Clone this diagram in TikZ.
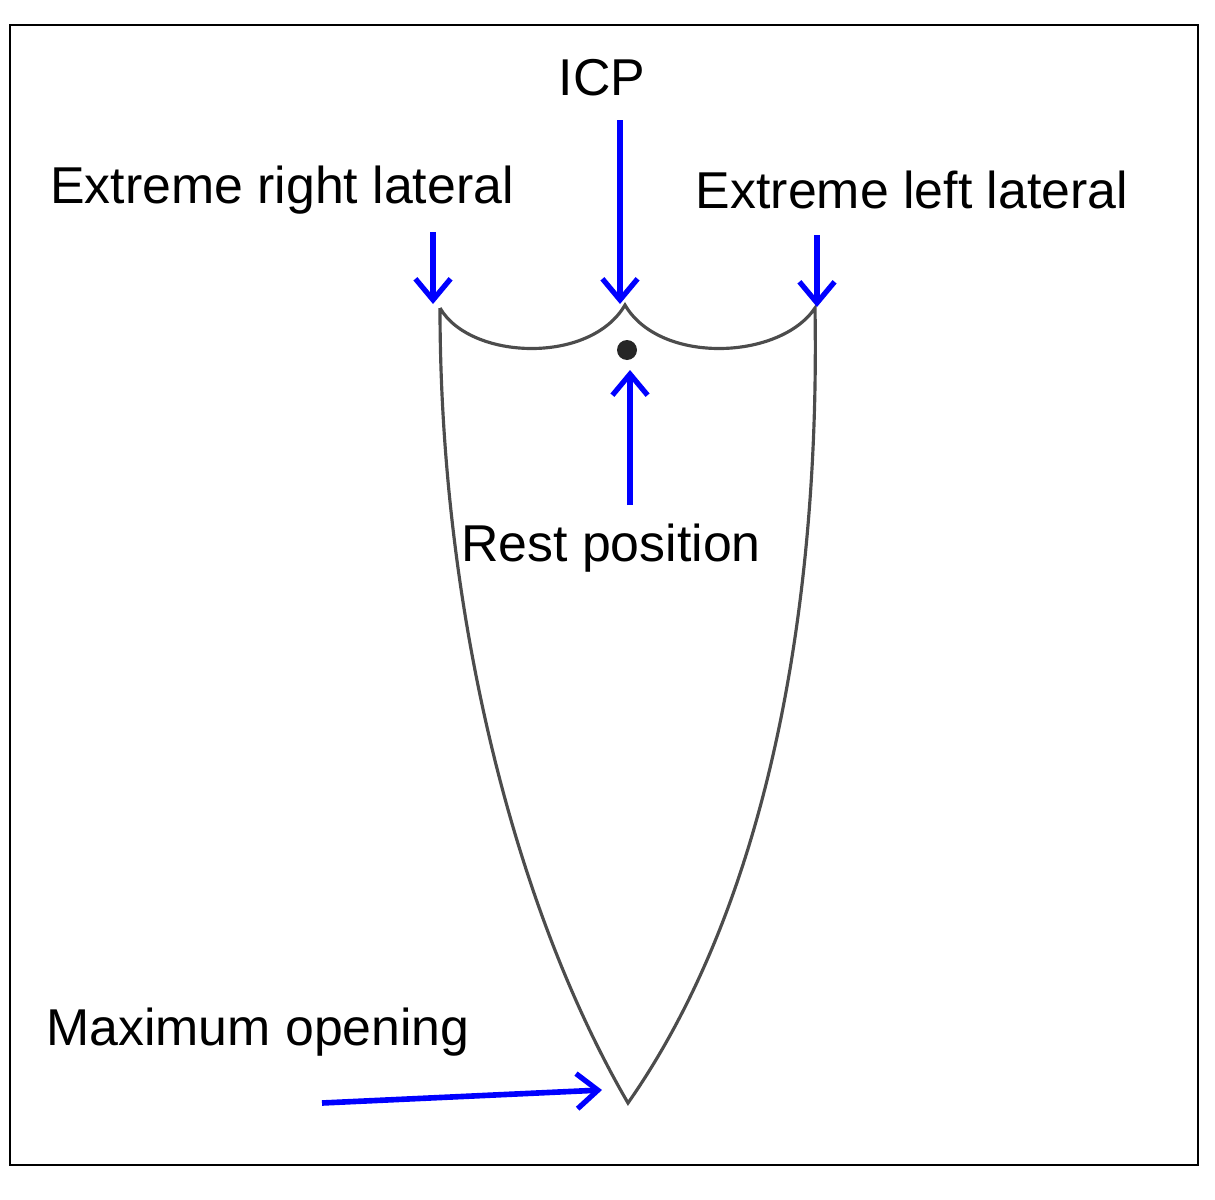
\documentclass[tikz,border=0pt]{standalone}
\usepackage{fontspec}
\setmainfont{Liberation Sans}
\usetikzlibrary{arrows.meta}
\begin{document}
\begin{tikzpicture}[x=0.02cm,y=-0.02cm,
  lbl/.style={font=\fontsize{29.5}{34}\selectfont},
  barrow/.style={draw=blue,line width=3.2pt,-{Straight Barb[length=12pt,width=20pt,line width=3pt]}},
  outline/.style={draw=black!70,line width=1.8pt}]
\useasboundingbox (0,0) rectangle (1215,1200);
\draw[line width=1.4pt] (10,25) rectangle (1198,1165);
% shape
\coordinate (L) at (440,308);
\coordinate (C) at (625,305);
\coordinate (R) at (815,308);
\coordinate (B) at (628,1103);
\draw[outline] (L) .. controls (470,360) and (590,365) .. (C)
  .. controls (660,365) and (780,360) .. (R)
  .. controls (820,600) and (770,900) .. (B)
  .. controls (510,900) and (440,600) .. (L);
\fill[black!85] (627,350) circle (10);
% labels
\node[lbl] (erl) at (282,190) {Extreme right lateral};
\node[lbl] (icp) at (602,78) {ICP};
\node[lbl] (ell) at (912,190) {Extreme left lateral};
\node[lbl] (rest) at (611,548) {Rest position};
\node[lbl] (max) at (258,1032) {Maximum opening};
% arrows
\coordinate (a1s) at (433,232); \coordinate (a1e) at (433,304);
\coordinate (a2s) at (620,120); \coordinate (a2e) at (620,304);
\coordinate (a3s) at (817,235); \coordinate (a3e) at (817,307);
\coordinate (a4s) at (630,505); \coordinate (a4e) at (630,370);
\coordinate (a5s) at (322,1103); \coordinate (a5e) at (602,1090);
\draw[barrow] (a1s) -- (a1e);
\draw[barrow] (a2s) -- (a2e);
\draw[barrow] (a3s) -- (a3e);
\draw[barrow] (a4s) -- (a4e);
\draw[barrow] (a5s) -- (a5e);
\end{tikzpicture}
\end{document}
